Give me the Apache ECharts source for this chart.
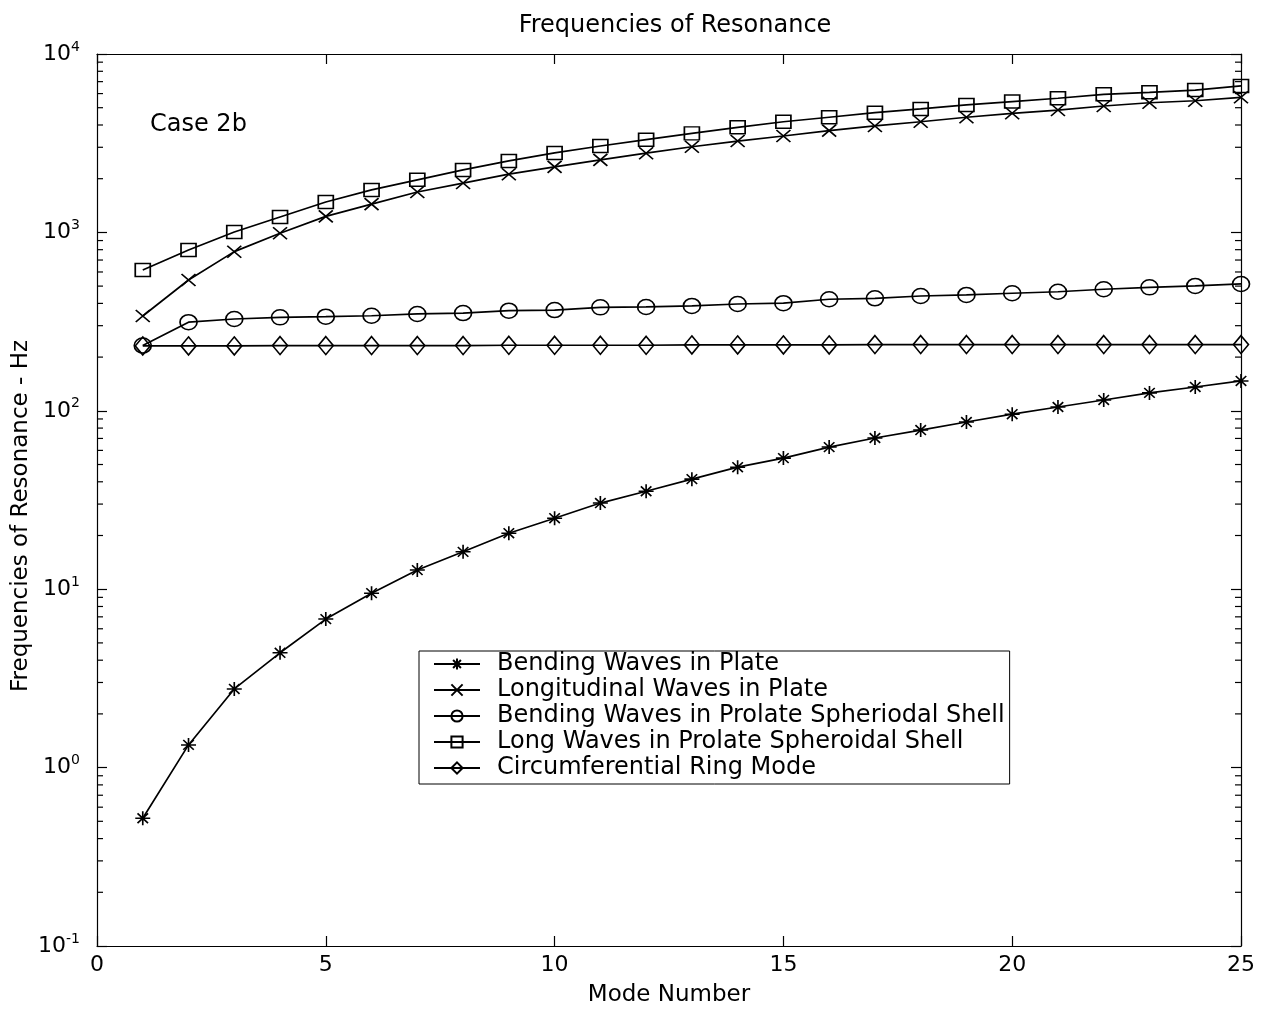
<!DOCTYPE html>
<html>
<head>
<meta charset="utf-8">
<script src="https://cdn.jsdelivr.net/npm/echarts@6/dist/echarts.min.js"></script>
<style>
html,body{margin:0;padding:0;background:#fff;}
#chart{width:1265px;height:1009px;}
</style>
</head>
<body>
<div id="chart"></div>
<script>
const modes = [1,2,3,4,5,6,7,8,9,10,11,12,13,14,15,16,17,18,19,20,21,22,23,24,25];
const bendingPlate = [0.52,1.34,2.76,4.4,6.8,9.5,12.8,16.2,20.6,25,30.4,35.4,41.4,48.3,54.3,62.6,70.4,78,86.5,95.7,105,115,126,136,147];
const longitudinalPlate = [340,541,780,990,1230,1440,1684,1890,2120,2330,2550,2780,3020,3250,3470,3720,3950,4170,4420,4650,4850,5110,5330,5470,5720];
const bendingShell = [232,314,327,334,337,341,349,353,364,367,380,382,387,397,401,422,427,440,446,456,465,480,492,501,514];
const longShell = [615,797,1005,1220,1480,1730,1970,2240,2515,2790,3050,3310,3590,3880,4170,4420,4690,4920,5180,5410,5650,5940,6100,6280,6620];
const ringMode = [231,231,231,232,232,232,232,232,233,233,233,233,234,234,234,234,235,235,235,235,235,235,235,235,235];
const seriesNames = ['Bending Waves in Plate','Longitudinal Waves in Plate','Bending Waves in Prolate Spheriodal Shell','Long Waves in Prolate Spheroidal Shell','Circumferential Ring Mode'];
const xTicks = [0,5,10,15,20,25];
const minorTickValues = [];
[0.1,1,10,100,1000].forEach(d => { [2,3,4,5,6,7,8,9].forEach(m => minorTickValues.push(+(m*d).toPrecision(3))); });

const FONT = '"DejaVu Sans", sans-serif';
const ASTERISK = 'path://M0,-10L0,10M-10,0L10,0M-7,-7L7,7M-7,7L7,-7';
const XMARK = 'path://M-10,-10L10,10M-10,10L10,-10';

function lineSeries(name, data, symbol, size) {
  return {
    name: name, type: 'line', data: modes.map((m, i) => [m, data[i]]),
    symbol: symbol, symbolSize: size, showSymbol: true,
    lineStyle: {color: '#000', width: 1.7},
    itemStyle: {color: 'transparent', borderColor: '#000', borderWidth: 1.6},
    emphasis: {disabled: true}
  };
}

const chart = echarts.init(document.getElementById('chart'), null, {renderer: 'canvas'});
const axisCommon = {
  axisLine: {show: true, onZero: false, lineStyle: {color: '#000', width: 1.2}},
  axisTick: {show: true, inside: true, length: 10, lineStyle: {color: '#000', width: 1.2}},
  splitLine: {show: false}
};
chart.setOption({
  animation: false,
  backgroundColor: '#fff',
  title: {
    text: 'Frequencies of Resonance', left: 670, top: 9, textAlign: 'center',
    textStyle: {fontFamily: FONT, fontSize: 24, fontWeight: 'normal', color: '#000'}
  },
  graphic: [{
    type: 'text', left: 150, top: 113,
    style: {text: 'Case 2b', fontFamily: FONT, fontSize: 24, fill: '#000'}
  }],
  grid: {left: 97, right: 24, top: 54, bottom: 63, containLabel: false, outerBoundsMode: 'none'},
  legend: {
    data: seriesNames, orient: 'vertical', left: 419, top: 651,
    itemWidth: 46, itemHeight: 14, itemGap: 0,
    padding: [0, 5, 3, 14], borderColor: '#000', borderWidth: 1, backgroundColor: '#fff',
    textStyle: {fontFamily: FONT, fontSize: 24, lineHeight: 26, color: '#000', padding: [0, 0, 0, 12]},
    selectedMode: false
  },
  xAxis: [
    Object.assign({}, axisCommon, {
      type: 'value', min: 0, max: 25, interval: 5, position: 'bottom',
      name: 'Mode Number', nameLocation: 'middle', nameGap: 38,
      nameTextStyle: {fontFamily: FONT, fontSize: 23, color: '#000'},
      axisLabel: {fontFamily: FONT, fontSize: 22, color: '#000', margin: 8,
        formatter: v => xTicks.indexOf(v) >= 0 ? String(v) : ''}
    }),
    Object.assign({}, axisCommon, {
      type: 'value', min: 0, max: 25, interval: 5, position: 'top',
      axisLabel: {show: false}
    })
  ],
  yAxis: [
    Object.assign({}, axisCommon, {
      type: 'log', logBase: 10, min: 0.1, max: 10000, position: 'left',
      name: 'Frequencies of Resonance - Hz', nameLocation: 'middle', nameGap: 64,
      nameMoveOverlap: false,
      nameTextStyle: {fontFamily: FONT, fontSize: 23, color: '#000', padding: [0, 32, 0, 0]},
      axisLabel: {
        margin: 17, color: '#000',
        formatter: v => '{b|10}{s|' + Math.round(Math.log10(v)) + '}',
        rich: {
          b: {fontFamily: FONT, fontSize: 22, color: '#000'},
          s: {fontFamily: FONT, fontSize: 14, color: '#000', padding: [0, 0, 14, 0]}
        }
      }
    }),
    Object.assign({}, axisCommon, {
      type: 'log', logBase: 10, min: 0.1, max: 10000, position: 'right',
      axisLabel: {show: false}
    })
  ],
  series: [
    lineSeries(seriesNames[0], bendingPlate, ASTERISK, [15, 14]),
    lineSeries(seriesNames[1], longitudinalPlate, XMARK, [14, 12]),
    lineSeries(seriesNames[2], bendingShell, 'circle', [17, 15]),
    lineSeries(seriesNames[3], longShell, 'rect', [15, 13]),
    lineSeries(seriesNames[4], ringMode, 'diamond', [15, 18]),
    {
      type: 'custom', silent: true, xAxisIndex: 0, yAxisIndex: 0,
      data: minorTickValues.map(v => [0, v]),
      renderItem: (params, api) => {
        const v = api.value(1);
        const l = api.coord([0, v]);
        const r = api.coord([25, v]);
        return {type: 'group', children: [
          {type: 'line', shape: {x1: l[0], y1: l[1], x2: l[0] + 6, y2: l[1]}, style: {stroke: '#000', lineWidth: 1.2}},
          {type: 'line', shape: {x1: r[0] - 6, y1: r[1], x2: r[0], y2: r[1]}, style: {stroke: '#000', lineWidth: 1.2}}
        ]};
      }
    }
  ]
});
</script>
</body>
</html>
